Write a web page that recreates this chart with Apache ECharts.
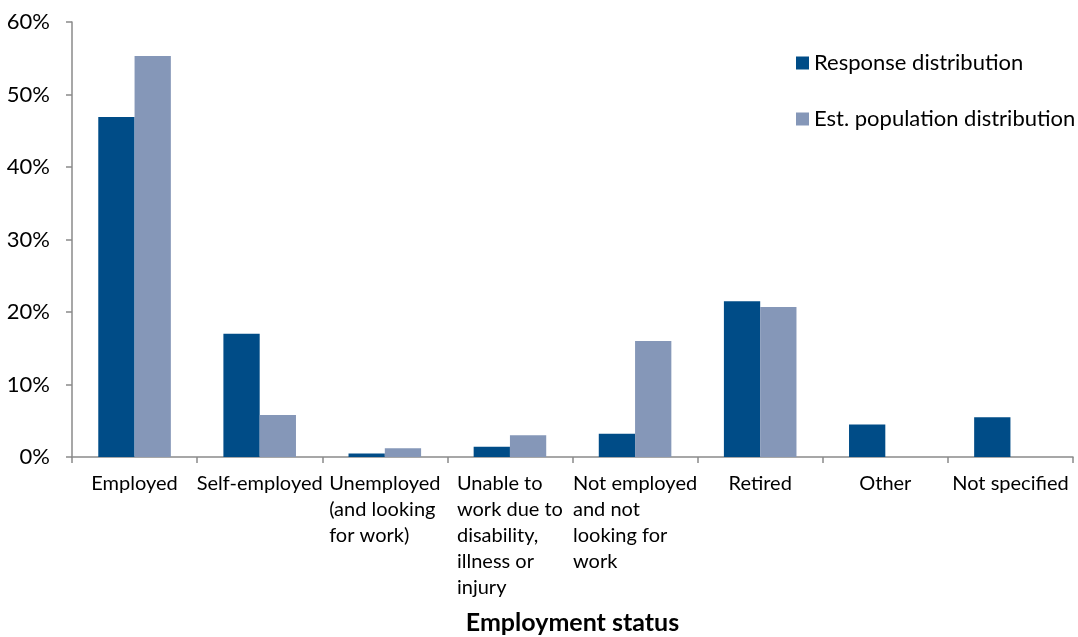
<!DOCTYPE html>
<html>
<head>
<meta charset="utf-8">
<script src="https://cdn.jsdelivr.net/npm/echarts@6/dist/echarts.min.js"></script>
<style>
  html, body { margin: 0; padding: 0; background: #ffffff; }
  #chart { width: 1078px; height: 637px; }
</style>
</head>
<body>
<div id="chart"></div>
<script>
// Employment status categories (line breaks mark how the axis labels wrap)
const categories = [
  'Employed',
  'Self-employed',
  'Unemployed\n(and looking\nfor work)',
  'Unable to\nwork due to\ndisability,\nillness or\ninjury',
  'Not employed\nand not\nlooking for\nwork',
  'Retired',
  'Other',
  'Not specified'
];

// Share of respondents in each status (%)
const responseDistribution = [46.9, 17.0, 0.5, 1.4, 3.2, 21.5, 4.5, 5.5];

// Estimated share of the population in each status (%)
const populationDistribution = [55.3, 5.8, 1.2, 3.0, 16.0, 20.7, null, null];

// Value axis ticks
const yTicks = { min: 0, max: 60, interval: 10 };

const FONT = 'Lato, "Open Sans", sans-serif';
const AXIS_GREY = '#8a8a8a';

const chart = echarts.init(document.getElementById('chart'));

chart.setOption({
  backgroundColor: '#ffffff',
  animation: false,
  textStyle: { fontFamily: FONT, color: '#000000' },
  grid: { left: 72, right: 5, top: 22, bottom: 180, outerBoundsMode: 'none', containLabel: false },
  legend: {
    orient: 'vertical',
    left: 791,
    top: 47,
    itemWidth: 13,
    itemHeight: 13,
    itemGap: 34,
    icon: 'rect',
    textStyle: { fontFamily: FONT, fontSize: 22, lineHeight: 22, color: '#000000' },
    data: ['Response distribution', 'Est. population distribution']
  },
  xAxis: {
    type: 'category',
    data: categories,
    name: 'Employment status',
    nameLocation: 'middle',
    nameGap: 153,
    nameTextStyle: { fontFamily: FONT, fontSize: 25, fontWeight: 'bold', color: '#000000' },
    axisLine: { lineStyle: { color: AXIS_GREY, width: 1.5 } },
    axisTick: { show: true, alignWithLabel: false, length: 6, lineStyle: { color: AXIS_GREY, width: 1.5 } },
    axisLabel: {
      interval: 0,
      margin: 14,
      fontFamily: FONT,
      fontSize: 20,
      lineHeight: 26,
      color: '#000000',
      formatter: function (value) {
        return value.split('\n').map(function (l) { return '{l|' + l + '}'; }).join('\n');
      },
      rich: {
        l: { align: 'left', fontFamily: FONT, fontSize: 20, lineHeight: 26, color: '#000000' }
      }
    }
  },
  yAxis: {
    type: 'value',
    min: yTicks.min,
    max: yTicks.max,
    interval: yTicks.interval,
    axisLine: { show: true, lineStyle: { color: AXIS_GREY, width: 1.5 } },
    axisTick: { show: true, length: 6, lineStyle: { color: AXIS_GREY, width: 1.5 } },
    splitLine: { show: false },
    axisLabel: {
      margin: 22,
      fontFamily: FONT,
      fontSize: 22,
      color: '#000000',
      formatter: '{value}%'
    }
  },
  series: [
    {
      name: 'Response distribution',
      type: 'bar',
      data: responseDistribution,
      barGap: '0%',
      barCategoryGap: '42%',
      itemStyle: { color: '#004c87' }
    },
    {
      name: 'Est. population distribution',
      type: 'bar',
      data: populationDistribution,
      barGap: '0%',
      barCategoryGap: '42%',
      itemStyle: { color: '#8597b8' }
    }
  ]
});
</script>
</body>
</html>
